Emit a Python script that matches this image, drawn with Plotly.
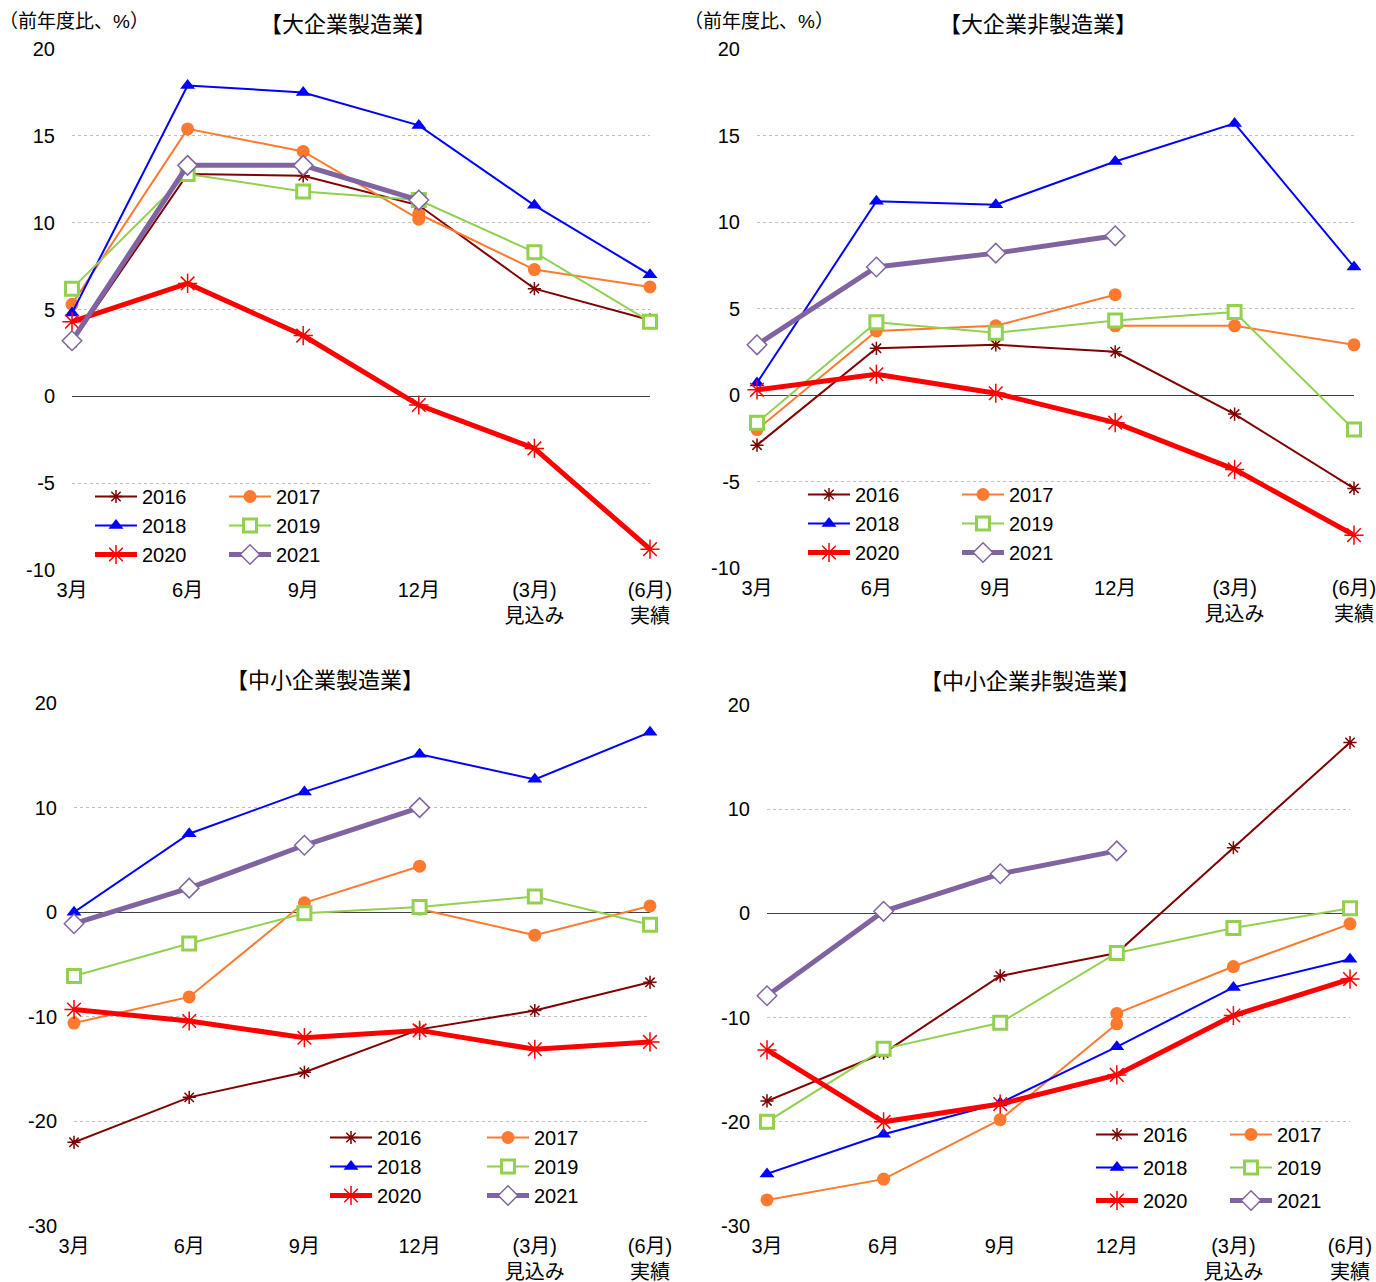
import plotly.graph_objects as go

categories = ["3月", "6月", "9月", "12月", "(3月)<br>見込み", "(6月)<br>実績"]
years = ["2016", "2017", "2018", "2019", "2020", "2021"]

# 【大企業製造業】 (前年度比、%)
large_mfg = {
    "2016": [3.1, 12.8, 12.7, 11.0, 6.2, 4.4],
    "2017": [5.3, 15.4, 14.1, 10.2, None, None],
    "2017r": [None, None, None, 10.5, 7.3, 6.3],
    "2018": [4.8, 17.9, 17.5, 15.6, 11.0, 7.0],
    "2019": [6.2, 12.8, 11.8, 11.3, 8.3, 4.3],
    "2020": [4.3, 6.5, 3.5, -0.5, -3.0, -8.8],
    "2021": [3.2, 13.3, 13.3, 11.3, None, None],
}

# 【大企業非製造業】
large_nonmfg = {
    "2016": [-2.9, 2.7, 2.9, 2.5, -1.1, -5.4],
    "2017": [-2.0, 3.7, 4.0, 5.8, None, None],
    "2017r": [None, None, None, 4.0, 4.0, 2.9],
    "2018": [0.7, 11.2, 11.0, 13.5, 15.7, 7.4],
    "2019": [-1.6, 4.2, 3.6, 4.3, 4.8, -2.0],
    "2020": [0.3, 1.2, 0.1, -1.6, -4.3, -8.1],
    "2021": [2.9, 7.4, 8.2, 9.2, None, None],
}

# 【中小企業製造業】
small_mfg = {
    "2016": [-22.0, -17.7, -15.3, -11.2, -9.4, -6.7],
    "2017": [-10.6, -8.1, 0.9, 4.4, None, None],
    "2017r": [None, None, None, 0.3, -2.2, 0.6],
    "2018": [0.0, 7.5, 11.5, 15.1, 12.7, 17.2],
    "2019": [-6.1, -3.0, -0.1, 0.5, 1.5, -1.2],
    "2020": [-9.3, -10.4, -12.0, -11.3, -13.1, -12.4],
    "2021": [-1.1, 2.3, 6.4, 10.0, None, None],
}

# 【中小企業非製造業】
small_nonmfg = {
    "2016": [-18.0, -13.4, -6.0, -3.8, 6.3, 16.4],
    "2017": [-27.5, -25.5, -19.8, -10.6, None, None],
    "2017r": [None, None, None, -9.6, -5.1, -1.0],
    "2018": [-25.0, -21.2, -18.2, -12.8, -7.1, -4.4],
    "2019": [-20.0, -13.0, -10.5, -3.8, -1.4, 0.5],
    "2020": [-13.1, -20.0, -18.3, -15.5, -9.8, -6.3],
    "2021": [-7.9, 0.2, 3.8, 6.0, None, None],
}

titles = ["【大企業製造業】", "【大企業非製造業】", "【中小企業製造業】", "【中小企業非製造業】"]
yticks_large = [-10, -5, 0, 5, 10, 15, 20]
yticks_small = [-30, -20, -10, 0, 10, 20]

FONT = "Liberation Sans, Arial, Noto Sans CJK JP, sans-serif"
W, H = 1376, 1282


def px_x(p):
    return p / W


def px_y(p):
    return 1 - p / H


styles = {
    "2016": dict(color="#7F0000", width=2, symbol="asterisk-open", size=11, fill="#7F0000", lw=1.5),
    "2017": dict(color="#FF7A2F", width=2, symbol="circle", size=13, fill="#FF7A2F", lw=0),
    "2018": dict(color="#0000FF", width=2, symbol="triangle-up", size=13, fill="#0000FF", lw=0),
    "2019": dict(color="#92D050", width=2, symbol="square", size=13, fill="white", lw=3),
    "2020": dict(color="#FF0000", width=5, symbol="asterisk-open", size=16, fill="#FF0000", lw=1.5),
    "2021": dict(color="#8064A2", width=5, symbol="diamond", size=15, fill="white", lw=1.5),
}

# panel pixel boxes: (left, right, top, bottom), legend spots
panels = [
    dict(data=large_mfg, box=(72, 650, 49, 570), ticks=yticks_large, rng=[-10, 20],
         leg=(95, 229, 497), gap=0, unit=True, title_xy=(348, 24)),
    dict(data=large_nonmfg, box=(757, 1354, 49, 568), ticks=yticks_large, rng=[-10, 20],
         leg=(808, 962, 495), gap=0, unit=True, title_xy=(1038, 24)),
    dict(data=small_mfg, box=(74, 650, 703, 1226), ticks=yticks_small, rng=[-30, 20],
         leg=(330, 487, 1138), gap=0, unit=False, title_xy=(325, 680)),
    dict(data=small_nonmfg, box=(767, 1350, 705, 1226), ticks=yticks_small, rng=[-30, 20],
         leg=(1096, 1230, 1135), gap=4, unit=False, title_xy=(1030, 681)),
]

fig = go.Figure()
annotations = []
layout = {}

for i, p in enumerate(panels):
    n = i + 1
    xa = "x" if n == 1 else f"x{n}"
    ya = "y" if n == 1 else f"y{n}"
    l, r, t, b = p["box"]
    leg_a = f"legend{2 * i + 1}" if i > 0 else "legend"
    leg_b = f"legend{2 * i + 2}"

    for key in ["2016", "2017", "2017r", "2018", "2019", "2020", "2021"]:
        yr = key[:4]
        s = styles[yr]
        fig.add_trace(go.Scatter(
            x=categories, y=p["data"][key], name=yr, xaxis=xa, yaxis=ya,
            mode="lines+markers", cliponaxis=False,
            line=dict(color=s["color"], width=s["width"]),
            marker=dict(symbol=s["symbol"], size=s["size"], color=s["fill"],
                        line=dict(color=s["color"], width=s["lw"])),
            showlegend=(key != "2017r"),
            legend=leg_a if yr in ("2016", "2018", "2020") else leg_b,
            legendgroup=f"{i}-{yr}",
        ))

    layout["xaxis" if n == 1 else f"xaxis{n}"] = dict(
        domain=[px_x(l), px_x(r)], anchor=ya, type="category",
        categoryorder="array", categoryarray=categories, range=[0, 5],
        showgrid=False, showline=False, zeroline=False, ticks="",
        ticklabelstandoff=6, automargin=False,
        tickfont=dict(size=20, color="#000000"),
    )
    layout["yaxis" if n == 1 else f"yaxis{n}"] = dict(
        domain=[px_y(b), px_y(t)], anchor=xa, range=p["rng"],
        tickvals=p["ticks"], ticktext=[str(v) for v in p["ticks"]],
        showgrid=True, gridcolor="#BFBFBF", griddash="dot", gridwidth=1,
        zeroline=True, zerolinecolor="#404040", zerolinewidth=1,
        showline=False, ticks="", ticklabelstandoff=16, automargin=False,
        tickfont=dict(size=20, color="#000000"),
    )

    c1, c2, row = p["leg"]
    for name, lx in ((leg_a, c1), (leg_b, c2)):
        layout[name] = dict(
            x=px_x(lx - 5), y=px_y(row - 20), xanchor="left", yanchor="top",
            orientation="v", traceorder="grouped", tracegroupgap=p["gap"],
            itemwidth=42, bgcolor="rgba(0,0,0,0)",
            font=dict(size=20, color="#000000", family=FONT),
        )

    tx, ty = p["title_xy"]
    annotations.append(dict(
        text=titles[i], x=px_x(tx), y=px_y(ty), xref="paper", yref="paper",
        xanchor="center", yanchor="middle", showarrow=False,
        font=dict(size=22, color="#000000"),
    ))
    if p["unit"]:
        annotations.append(dict(
            text="（前年度比、%）", x=px_x(l - 75), y=px_y(22), xref="paper", yref="paper",
            xanchor="left", yanchor="middle", showarrow=False,
            font=dict(size=19, color="#000000"),
        ))

fig.update_layout(layout)
fig.update_layout(
    width=W, height=H,
    margin=dict(l=0, r=0, t=0, b=0),
    paper_bgcolor="white", plot_bgcolor="white",
    font=dict(family=FONT, size=20, color="#000000"),
    annotations=annotations,
)

# drop the default page margin so the figure sits flush in the window
fig.write_html(
    "out.html",
    config={"displayModeBar": False},
    post_script="document.body.style.margin='0';",
)
